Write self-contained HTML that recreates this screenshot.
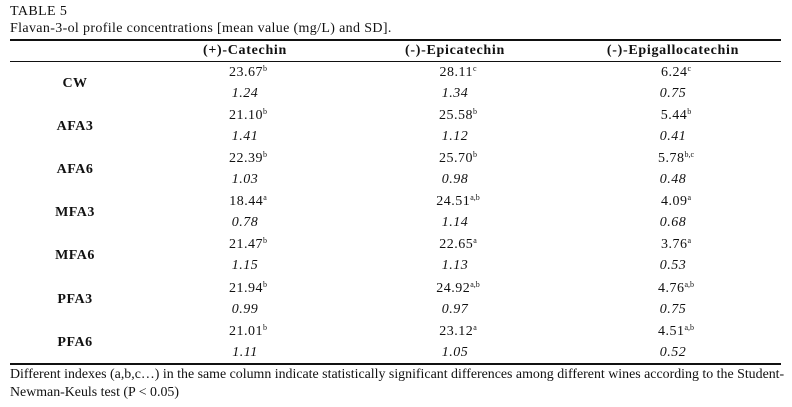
<!DOCTYPE html>
<html><head><meta charset="utf-8"><style>
body{margin:0;width:792px;height:407px;background:#fff;font-family:"Liberation Serif",serif;font-size:14px;color:#111;position:relative;overflow:hidden}
.a{position:absolute;white-space:nowrap;line-height:16px}
.c{transform:translateX(-50%)}
.v{letter-spacing:0.5px}
.ln{position:absolute;left:10px;width:771px;background:#111}
b{font-weight:bold}
sup{font-size:8px;vertical-align:5px;line-height:0;letter-spacing:0}
i{font-style:italic}
</style></head><body>
<div class="a" style="left:10px;top:4px;letter-spacing:0.4px">TABLE 5</div>
<div class="a" style="left:10px;top:21px;letter-spacing:0.35px">Flavan-3-ol profile concentrations [mean value (mg/L) and SD].</div>
<div class="ln" style="top:39px;height:2px"></div>
<div class="a c" style="left:245px;top:43px;letter-spacing:0.7px"><b>(+)-Catechin</b></div>
<div class="a c" style="left:455px;top:43px;letter-spacing:0.7px"><b>(-)-Epicatechin</b></div>
<div class="a c" style="left:673px;top:43px;letter-spacing:0.7px"><b>(-)-Epigallocatechin</b></div>
<div class="ln" style="top:61px;height:1px"></div>
<div id="rows"></div>
<div class="ln" style="top:363px;height:2px"></div>
<div class="a" style="left:10px;top:367px;font-size:13.9px">Different indexes (a,b,c…) in the same column indicate statistically significant differences among different wines according to the Student-</div>
<div class="a" style="left:10px;top:385px;font-size:13.9px">Newman-Keuls test (P &lt; 0.05)</div>
<script>
const wines=["CW","AFA3","AFA6","MFA3","MFA6","PFA3","PFA6"];
const catMean=["23.67","21.10","22.39","18.44","21.47","21.94","21.01"];
const catSup=["b","b","b","a","b","b","b"];
const catSD=["1.24","1.41","1.03","0.78","1.15","0.99","1.11"];
const epiMean=["28.11","25.58","25.70","24.51","22.65","24.92","23.12"];
const epiSup=["c","b","b","a,b","a","a,b","a"];
const epiSD=["1.34","1.12","0.98","1.14","1.13","0.97","1.05"];
const egcMean=["6.24","5.44","5.78","4.09","3.76","4.76","4.51"];
const egcSup=["c","b","b,c","a","a","a,b","a,b"];
const egcSD=["0.75","0.41","0.48","0.68","0.53","0.75","0.52"];
const root=document.getElementById('rows');
const cols=[[245,catMean,catSup,catSD,'catechin'],[455,epiMean,epiSup,epiSD,'epicatechin'],[673,egcMean,egcSup,egcSD,'epigallocatechin']];
function mk(x,y,html){const d=document.createElement('div');d.className='a c v';d.style.left=x+'px';d.style.top=y+'px';d.innerHTML=html;root.appendChild(d);return d;}
wines.forEach((w,i)=>{
  const y0=62+i*43.1;
  const l=mk(75,y0+14,'<b>'+w+'</b>');
  
  
  cols.forEach(c=>{
    const m=mk(c[0]+3,y0+3,c[1][i]+'<sup>'+c[2][i]+'</sup>');
    
    
    const s=mk(c[0],y0+24,'<i>'+c[3][i]+'</i>');
    
    
  });
});
</script>
</body></html>
